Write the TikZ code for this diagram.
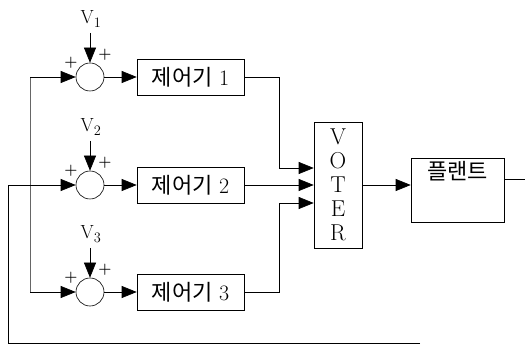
\documentclass[tikz,border=0pt]{standalone}
\usepackage{fontspec}
\newfontfamily\cjk{Noto Sans CJK KR}
\usepackage{tikz}
\usetikzlibrary{arrows.meta,positioning}

\begin{document}
\begin{tikzpicture}[x=1pt, y=-1pt, >={Triangle[length=15pt, width=12pt]}, line width=0.6pt,
  sum/.style={circle, draw, minimum size=28pt, inner sep=0pt},
  ctrl/.style={draw, minimum width=107pt, minimum height=36pt, inner sep=0pt, font=\fontsize{22}{25}\selectfont},
  sign/.style={font=\fontsize{15}{15}\selectfont\bfseries, inner sep=0pt},
  vlabel/.style={font=\fontsize{19}{22}\selectfont, inner sep=0pt}]
  \useasboundingbox (0,0) rectangle (525,347);
  % three loops
  \foreach \i/\y in {1/77, 2/185, 3/292} {
    \node[sum] (s\i) at (90,\y) {};
    \node[ctrl] (c\i) at (190.5,\y) {{\cjk 제어기} \i};
    \node[vlabel] (v\i) at (91,\y-58) {V$_{\i}$};
    \coordinate (t\i) at (90,\y-44);
    \node[sign] (pa\i) at (71,\y-14) {+};
    \node[sign] (pb\i) at (105,\y-22) {+};
    \draw[->] (t\i) -- (s\i.north);
    \draw[->] (s\i) -- (c\i);
  }
  \node[draw, minimum width=48pt, minimum height=126pt, inner sep=0pt, align=center,
    font=\fontsize{23}{24}\selectfont] (voter) at (338,185) {V\\O\\T\\E\\R};
  \node[draw, minimum width=93pt, inner sep=8pt, text height=14pt, text depth=34pt,
    font=\fontsize{22}{25}\selectfont\cjk] (plant) at (457.5,190) {플랜트};
  % voter inputs
  \coordinate (in1) at ([yshift=17pt]voter.west);
  \coordinate (in3) at ([yshift=-18pt]voter.west);
  \draw[->] (c1.east) -- ++(35,0) |- (in1);
  \draw[->] (c2.east) -- (voter.west);
  \draw[->] (c3.east) -- ++(35,0) |- (in3);
  \draw[->] (voter.east) -- (voter.east -| plant.west);
  \coordinate (out) at (525,179);
  \draw (plant.east |- out) -- (out);
  % inputs on the left
  \coordinate (fb) at (8,185);
  \coordinate (br1) at (30,77);
  \coordinate (br3) at (30,292);
  \coordinate (bot1) at (8,343);
  \coordinate (bot2) at (420,343);
  \draw[black!60] (br1) -- (br3);
  \draw[->] (br1) -- (s1.west);
  \draw[->] (br3) -- (s3.west);
  \draw[->] (fb) -- (s2.west);
  \draw (bot2) -- (bot1) -- (fb);
\end{tikzpicture}
\end{document}
